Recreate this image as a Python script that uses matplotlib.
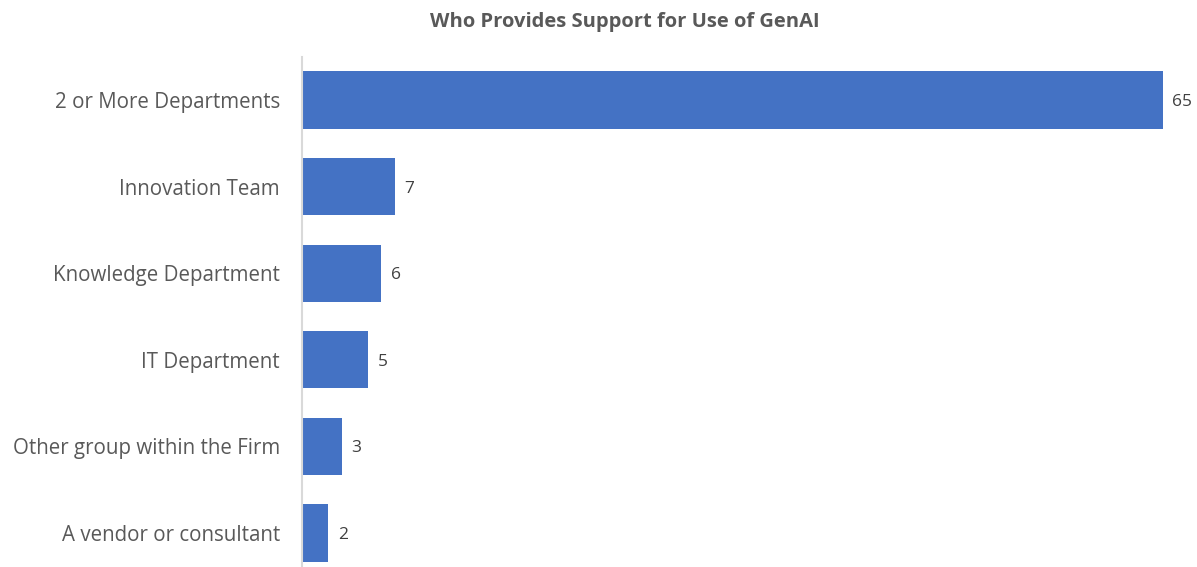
import matplotlib
matplotlib.use("Agg")
import matplotlib.pyplot as plt

# data, top to bottom
categories = ["2 or More Departments", "Innovation Team", "Knowledge Department",
              "IT Department", "Other group within the Firm", "A vendor or consultant"]
counts = [65, 7, 6, 5, 3, 2]

plt.rcParams['font.family'] = ['Open Sans', 'DejaVu Sans']

W, H = 1197, 567
fig = plt.figure(figsize=(W / 100, H / 100), dpi=100)

# axes placed in pixel terms: left at x=302, right at x=1163, top at y=56.7
left, right = 302 / W, 1163 / W
top = 1 - 56.7 / H
bottom = 1 - 576.3 / H
ax = fig.add_axes([left, bottom, right - left, top - bottom])

ypos = list(range(len(categories)))
ax.barh(ypos, counts, height=0.66, color="#4472C4")
ax.set_xlim(0, 65)
ax.set_ylim(len(categories) - 0.5, -0.5)

ax.set_yticks(ypos)
ax.set_yticklabels(categories, fontsize=14.8, color="#595959")
ax.tick_params(axis="y", length=0, pad=15.8)
ax.set_xticks([])

for s in ["top", "right", "bottom"]:
    ax.spines[s].set_visible(False)
ax.spines["left"].set_color("#d9d9d9")
ax.spines["left"].set_linewidth(1.5)

for y, v in zip(ypos, counts):
    ax.text(v + 0.7, y, str(v), va="center_baseline", ha="left", fontsize=12.5,
            color="#404040", clip_on=False)

fig.text(625 / W, 1 - 22 / H, "Who Provides Support for Use of GenAI", ha="center",
         va="center", fontsize=14.5, fontweight="bold", color="#595959")

fig.savefig("out.png", dpi=100)
